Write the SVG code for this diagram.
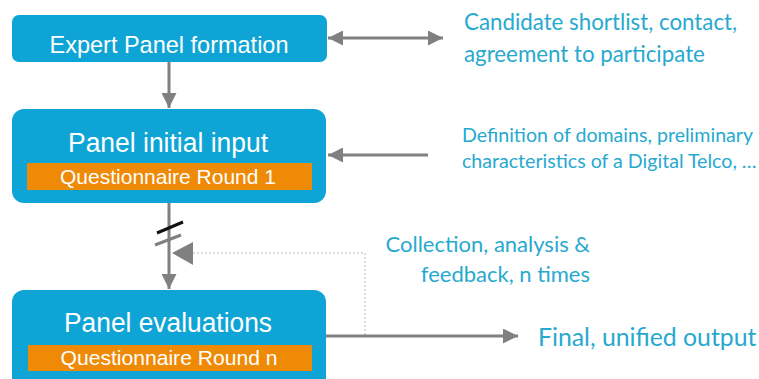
<svg xmlns="http://www.w3.org/2000/svg" width="759" height="379" viewBox="0 0 759 379">
  <style>
    .box { fill: #0ea5d6; }
    .bar { fill: #ef8a06; }
    .btxt { font-family: "Liberation Sans", Arial, sans-serif; fill: #ffffff; text-anchor: middle; }
    .note { font-family: Lato, "Open Sans", sans-serif; fill: #27a9cf; }
    .conn { stroke: #808080; stroke-width: 3; fill: none; }
  </style>
  <defs>
    <marker id="ah" viewBox="0 0 10 10" refX="10" refY="5" markerWidth="5" markerHeight="5" markerUnits="strokeWidth" orient="auto-start-reverse">
      <path d="M0,0 L10,5 L0,10 Z" fill="#808080"/>
    </marker>
  </defs>
  <rect width="759" height="379" fill="#ffffff"/>

  <g id="connectors">
    <line class="conn" x1="328" y1="38" x2="443" y2="38" marker-start="url(#ah)" marker-end="url(#ah)"/>
    <line class="conn" x1="169" y1="62" x2="169" y2="108" marker-end="url(#ah)"/>
    <line class="conn" x1="428" y1="155" x2="328" y2="155" marker-end="url(#ah)"/>
    <line class="conn" x1="169" y1="203" x2="169" y2="289" marker-end="url(#ah)"/>
    <line x1="157" y1="233" x2="183" y2="222" stroke="#111111" stroke-width="3"/>
    <line x1="155" y1="245" x2="181" y2="235" stroke="#808080" stroke-width="3"/>
    <polyline points="193,253 365,253 365,336" fill="none" stroke="#b8b8b8" stroke-width="1" stroke-dasharray="2,2"/>
    <path d="M172,253 L193,242 L193,265 Z" fill="#808080"/>
    <line class="conn" x1="326" y1="336" x2="518" y2="336" marker-end="url(#ah)"/>
  </g>

  <g id="expert-panel">
    <rect class="box" x="12" y="15" width="315" height="47" rx="7"/>
    <text class="btxt" x="169" y="53" font-size="24" textLength="239" lengthAdjust="spacingAndGlyphs">Expert Panel formation</text>
  </g>

  <g id="initial-input">
    <rect class="box" x="12" y="109" width="314" height="94" rx="12"/>
    <text class="btxt" x="168" y="152" font-size="27" textLength="200" lengthAdjust="spacingAndGlyphs">Panel initial input</text>
    <rect class="bar" x="27" y="163" width="285" height="27"/>
    <text class="btxt" x="168" y="184" font-size="21" textLength="216" lengthAdjust="spacingAndGlyphs">Questionnaire Round 1</text>
  </g>

  <g id="evaluations">
    <rect class="box" x="12" y="290" width="314" height="100" rx="12"/>
    <text class="btxt" x="168" y="332" font-size="27" textLength="208" lengthAdjust="spacingAndGlyphs">Panel evaluations</text>
    <rect class="bar" x="28" y="345" width="284" height="26"/>
    <text class="btxt" x="169" y="365" font-size="21" textLength="217" lengthAdjust="spacingAndGlyphs">Questionnaire Round n</text>
  </g>

  <g id="notes">
    <text class="note" x="464" y="30" font-size="22.3">Candidate shortlist, contact,</text>
    <text class="note" x="464" y="62" font-size="22.3">agreement to participate</text>
    <text class="note" x="462" y="142" font-size="19.6">Definition of domains, preliminary</text>
    <text class="note" x="462" y="168" font-size="19.6">characteristics of a Digital Telco, …</text>
    <text class="note" x="590" y="252" font-size="22" text-anchor="end">Collection, analysis &amp;</text>
    <text class="note" x="590" y="282" font-size="22" text-anchor="end">feedback, n times</text>
    <text class="note" x="538" y="346" font-size="24.8">Final, unified output</text>
  </g>
</svg>
